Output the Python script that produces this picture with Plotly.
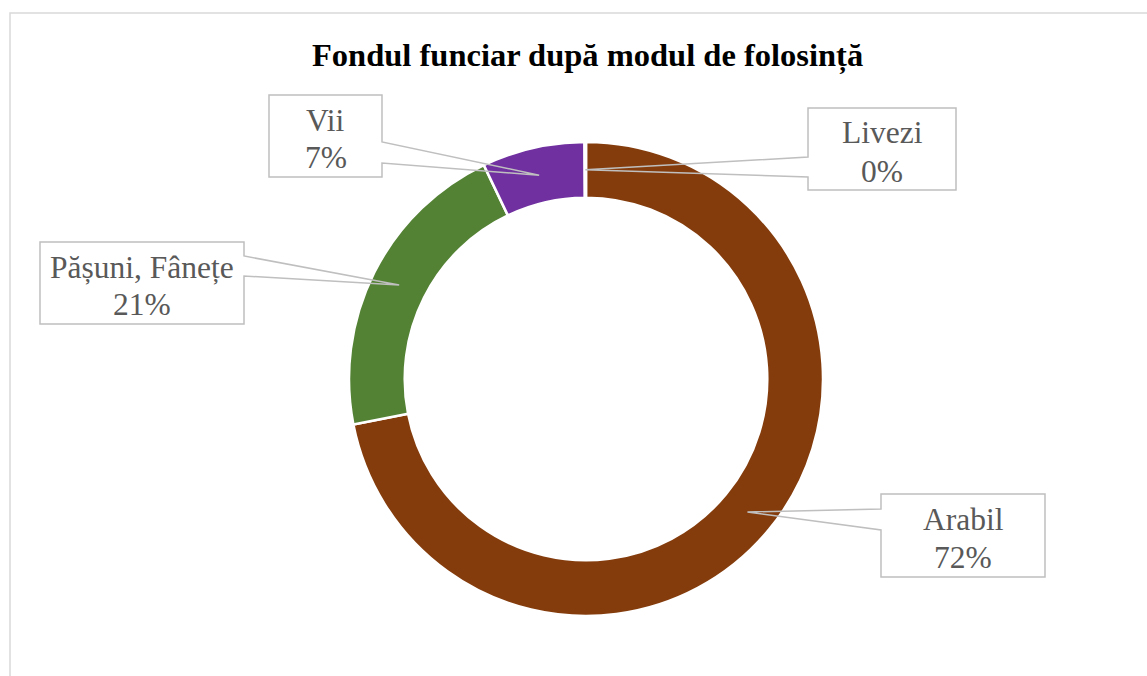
import math
import plotly.graph_objects as go

# ---- data ----
categories = ["Arabil", "Pășuni, Fânețe", "Vii", "Livezi"]
values = [72, 21, 7, 0.1]
colors = ["#843C0C", "#548235", "#7030A0", "#A5A5A5"]
title_text = "Fondul funciar după modul de folosință"

# ---- layout geometry (pixels) ----
W, H = 1147, 676
CX, CY, R = 586, 379, 237
HOLE = 0.765

# label boxes: (x0, y0, x1, y1, side of pointer, pointer base y a, y b)
boxes = {
    "Arabil": (881, 494, 1045, 577, "left", 509, 530),
    "Pășuni, Fânețe": (40, 242, 244, 324, "right", 256, 276),
    "Vii": (269, 95, 382, 177, "right", 142, 163),
    "Livezi": (808, 108, 956, 190, "left", 157, 177),
}


def px(x):
    return x / W


def py(y):
    return 1 - y / H


fig = go.Figure()
fig.add_trace(go.Pie(
    labels=categories,
    values=values,
    sort=False,
    direction="clockwise",
    rotation=0,
    hole=HOLE,
    marker=dict(colors=colors, line=dict(color="white", width=2.5)),
    textinfo="none",
    hoverinfo="label+percent",
    showlegend=False,
    domain=dict(x=[px(CX - R), px(CX + R)], y=[py(CY + R), py(CY - R)]),
))

total = sum(values)
cum = 0.0
shapes = []
annotations = []
mid_r = R * (1 + HOLE) / 2
for name, v in zip(categories, values):
    frac = v / total
    mid = (cum + frac / 2) * 2 * math.pi
    cum += frac
    tx = CX + mid_r * math.sin(mid)
    ty = CY - mid_r * math.cos(mid)
    x0, y0, x1, y1, side, ya, yb = boxes[name]
    if side == "right":
        pts = [(x0, y0), (x1, y0), (x1, ya), (tx, ty), (x1, yb), (x1, y1), (x0, y1)]
    else:
        pts = [(x0, y0), (x1, y0), (x1, y1), (x0, y1), (x0, yb), (tx, ty), (x0, ya)]
    path = "M " + " L ".join(f"{px(a):.5f},{py(b):.5f}" for a, b in pts) + " Z"
    shapes.append(dict(type="path", xref="paper", yref="paper", path=path,
                       line=dict(color="#BFBFBF", width=1.5), fillcolor="rgba(0,0,0,0)"))
    pct = f"{round(frac * 100)}%"
    bc = (y0 + y1) / 2
    for txt, yy in ((name, bc - 16), (pct, bc + 22)):
        annotations.append(dict(
            text=txt, x=px((x0 + x1) / 2), y=py(yy), xref="paper", yref="paper",
            xanchor="center", yanchor="middle", showarrow=False,
            font=dict(family="Liberation Serif", size=31.5, color="#595959"),
        ))

# chart area border
shapes.append(dict(type="rect", xref="paper", yref="paper",
                   x0=px(10), y0=py(13), x1=px(1170), y1=py(700),
                   line=dict(color="#D9D9D9", width=1.5), fillcolor="rgba(0,0,0,0)", layer="below"))

annotations.append(dict(
    text="<b>" + title_text + "</b>", x=px(587), y=py(55), xref="paper", yref="paper",
    xanchor="center", yanchor="middle", showarrow=False,
    font=dict(family="Liberation Serif", size=32.5, color="#000000"),
))

fig.update_layout(
    width=W, height=H,
    margin=dict(l=0, r=0, t=0, b=0),
    paper_bgcolor="white", plot_bgcolor="white",
    shapes=shapes, annotations=annotations,
)

fig.write_html("out.html", config={"displayModeBar": False},
               post_script="document.body.style.margin='0';")
